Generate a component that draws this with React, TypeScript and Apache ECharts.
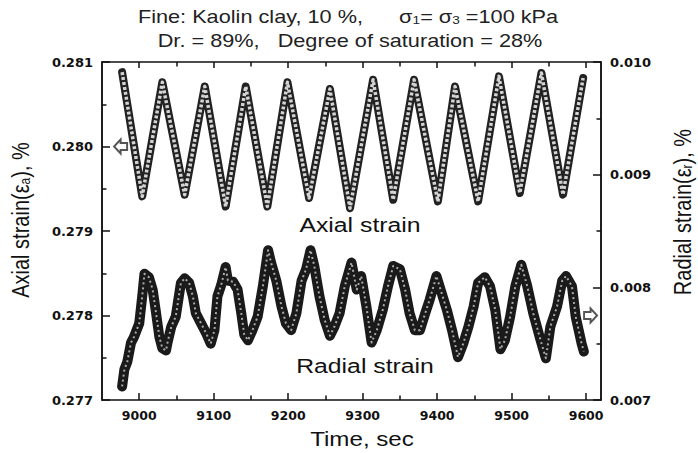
import { useEffect, useRef } from 'react';
import * as echarts from 'echarts';

// Axial strain (left axis, %) — turning points of the cyclic trace
const axialTime = [8977, 9004, 9031, 9061, 9088, 9116, 9143, 9172, 9199, 9228, 9256, 9283, 9314, 9341, 9369, 9401, 9424, 9455, 9483, 9511, 9540, 9569, 9596];
const axialStrain = [0.28088, 0.27941, 0.28076, 0.27943, 0.28071, 0.27929, 0.28071, 0.27929, 0.28076, 0.27939, 0.28068, 0.27927, 0.28079, 0.27937, 0.28079, 0.27935, 0.28071, 0.27935, 0.28083, 0.27945, 0.28087, 0.27943, 0.28081];

// Radial strain (right axis, %)
const radialTime = [8977, 8980, 8984, 8989, 8993, 9000, 9004, 9007, 9013, 9018, 9022, 9027, 9031, 9036, 9038, 9043, 9049, 9056, 9061, 9067, 9072, 9076, 9083, 9090, 9096, 9101, 9105, 9110, 9116, 9119, 9126, 9132, 9137, 9141, 9146, 9152, 9159, 9166, 9173, 9177, 9184, 9191, 9197, 9204, 9211, 9218, 9224, 9230, 9235, 9242, 9249, 9256, 9262, 9269, 9276, 9285, 9292, 9298, 9305, 9312, 9319, 9327, 9334, 9341, 9350, 9357, 9363, 9370, 9377, 9384, 9390, 9399, 9406, 9413, 9420, 9428, 9435, 9442, 9449, 9455, 9464, 9471, 9478, 9485, 9491, 9498, 9505, 9513, 9521, 9529, 9538, 9546, 9552, 9561, 9568, 9573, 9581, 9586, 9590, 9594, 9597];
const radialStrain = [0.00712, 0.00727, 0.00734, 0.00751, 0.00756, 0.00768, 0.00792, 0.00812, 0.00809, 0.00798, 0.0078, 0.00756, 0.00746, 0.00744, 0.00751, 0.00765, 0.00774, 0.00804, 0.00808, 0.00804, 0.00792, 0.00777, 0.00768, 0.00759, 0.0075, 0.00762, 0.00792, 0.00802, 0.00818, 0.00806, 0.00805, 0.00798, 0.00777, 0.00758, 0.00753, 0.00762, 0.00774, 0.00801, 0.00833, 0.00822, 0.00806, 0.00783, 0.00768, 0.00762, 0.00777, 0.00806, 0.00816, 0.00833, 0.00819, 0.00792, 0.00771, 0.00757, 0.00765, 0.00777, 0.00801, 0.00822, 0.00798, 0.0081, 0.00783, 0.00751, 0.00762, 0.0078, 0.00801, 0.00819, 0.00816, 0.00798, 0.00777, 0.00762, 0.00762, 0.00777, 0.00789, 0.0081, 0.00795, 0.0078, 0.00762, 0.00738, 0.0075, 0.00765, 0.00783, 0.00804, 0.00809, 0.00801, 0.0078, 0.00745, 0.00753, 0.00774, 0.00801, 0.0082, 0.00801, 0.00777, 0.00755, 0.00737, 0.00765, 0.00783, 0.00806, 0.0081, 0.00801, 0.00774, 0.00762, 0.0075, 0.00743];

// Tick values of the time axis
const majorTimeTicks = [9000, 9100, 9200, 9300, 9400, 9500, 9600];
const minorTimeTicks = [9050, 9150, 9250, 9350, 9450, 9550];

export default function App() {
  const ref = useRef<HTMLDivElement>(null);

  useEffect(() => {
    document.body.style.margin = '0';
    const chart = echarts.init(ref.current as HTMLDivElement, null, { renderer: 'svg' });

    const axialData = axialTime.map((t, i) => [t, axialStrain[i]]);
    const radialData = radialTime.map((t, i) => [t, radialStrain[i]]);

    const textFont = 'Liberation Sans, Arial, Helvetica, sans-serif';
    const tickFont = 'DejaVu Sans, sans-serif';
    const ink = '#111';

    const xBase = (position: string, ticks: number[], len: number, labels: boolean) => ({
      type: 'value',
      position,
      min: 8950,
      max: 9620,
      splitLine: { show: false },
      axisLine: { show: false },
      axisTick: { show: true, inside: true, length: len, customValues: ticks, lineStyle: { color: ink, width: 1.5 } },
      axisLabel: labels
        ? { show: true, customValues: ticks, margin: 9, color: ink, fontFamily: tickFont, fontWeight: 'bold', fontSize: 12.5, formatter: (v: number) => String(v) }
        : { show: false },
    });

    const yBase = (position: string, min: number, max: number, digits: number) => ({
      type: 'value',
      position,
      min,
      max,
      interval: 0.001,
      splitLine: { show: false },
      axisLine: { show: true, lineStyle: { color: ink, width: 1.5 } },
      axisTick: { show: true, inside: true, length: 8, lineStyle: { color: ink, width: 1.5 } },
      minorTick: { show: true, splitNumber: 2, length: 4.5, lineStyle: { color: ink, width: 1.5 } },
      minorSplitLine: { show: false },
      axisLabel: { margin: 9, color: ink, fontFamily: tickFont, fontWeight: 'bold', fontSize: 13, formatter: (v: number) => v.toFixed(digits) },
    });

    const sub = { fontSize: 11, fontFamily: textFont, fill: '#222', verticalAlign: 'bottom', lineHeight: 10 };

    chart.setOption({
      animation: false,
      backgroundColor: '#ffffff',
      grid: { left: 102, right: 97, top: 62, bottom: 53, show: true, borderColor: ink, borderWidth: 1.5, backgroundColor: 'transparent' },
      xAxis: [
        xBase('bottom', majorTimeTicks, 7, true),
        xBase('bottom', minorTimeTicks, 4.5, false),
        xBase('top', majorTimeTicks, 6, false),
        xBase('top', minorTimeTicks, 4.5, false),
      ],
      yAxis: [yBase('left', 0.277, 0.281, 3), yBase('right', 0.007, 0.01, 3)],
      series: [
        {
          type: 'line', name: 'Axial strain', xAxisIndex: 0, yAxisIndex: 0, data: axialData,
          symbol: 'none', lineStyle: { color: '#222', width: 8, join: 'round', cap: 'round' }, z: 2,
          markPoint: {
            symbol: 'path://M0,6 L6,0 L6,3 L12,3 L12,9 L6,9 L6,12 Z', symbolSize: [13, 14],
            itemStyle: { color: '#ffffff', borderColor: '#555', borderWidth: 2 }, label: { show: false },
            data: [{ coord: [8975, 0.28] }],
          },
        },
        {
          type: 'line', xAxisIndex: 0, yAxisIndex: 0, data: axialData, symbol: 'none',
          lineStyle: { color: '#d4d4d4', width: 3.5, type: [3, 2], join: 'round' }, z: 3,
        },
        {
          type: 'line', name: 'Radial strain', xAxisIndex: 0, yAxisIndex: 1, data: radialData,
          symbol: 'none', lineStyle: { color: '#1a1a1a', width: 10, join: 'round', cap: 'round' }, z: 2,
          markPoint: {
            symbol: 'path://M12,6 L6,0 L6,3 L0,3 L0,9 L6,9 L6,12 Z', symbolSize: [13, 14],
            itemStyle: { color: '#ffffff', borderColor: '#555', borderWidth: 2 }, label: { show: false },
            data: [{ coord: [9606, 0.00775] }],
          },
        },
        {
          type: 'line', xAxisIndex: 0, yAxisIndex: 1, data: radialData, symbol: 'none',
          lineStyle: { color: '#d8d8d8', width: 2, type: [2, 3], join: 'round', opacity: 0.75 }, z: 3,
        },
      ],
      graphic: [
        {
          type: 'text', x: 348, y: 17, scaleX: 1.24, z: 10,
          style: {
            text: 'Fine: Kaolin clay, 10 %,      σ{s|1}= σ{s|3} =100 kPa',
            fontSize: 17.5, fontFamily: textFont, fill: '#222', align: 'center', verticalAlign: 'middle',
            rich: { s: sub },
          },
        },
        {
          type: 'text', x: 350, y: 41, scaleX: 1.24, z: 10,
          style: {
            text: 'Dr. = 89%,   Degree of saturation = 28%',
            fontSize: 17.5, fontFamily: textFont, fill: '#222', align: 'center', verticalAlign: 'middle',
          },
        },
        {
          type: 'text', x: 362, y: 439, scaleX: 1.15, z: 10,
          style: { text: 'Time, sec', fontSize: 21, fontFamily: textFont, fill: '#111', align: 'center', verticalAlign: 'middle' },
        },
        {
          type: 'text', x: 360, y: 225, scaleX: 1.18, z: 10,
          style: { text: 'Axial strain', fontSize: 21, fontFamily: textFont, fill: '#111', align: 'center', verticalAlign: 'middle' },
        },
        {
          type: 'text', x: 365, y: 366, scaleX: 1.18, z: 10,
          style: { text: 'Radial strain', fontSize: 21, fontFamily: textFont, fill: '#111', align: 'center', verticalAlign: 'middle' },
        },
        {
          type: 'text', x: 21, y: 220, rotation: Math.PI / 2, scaleY: 1.15, z: 10,
          style: {
            text: 'Axial strain(ε{s|a}), %', fontSize: 20, fontFamily: textFont, fill: '#111', align: 'center', verticalAlign: 'middle',
            rich: { s: { ...sub, fontSize: 12, fill: '#111' } },
          },
        },
        {
          type: 'text', x: 683, y: 212, rotation: Math.PI / 2, scaleY: 1.15, z: 10,
          style: {
            text: 'Radial strain(ε{s|r}), %', fontSize: 20, fontFamily: textFont, fill: '#111', align: 'center', verticalAlign: 'middle',
            rich: { s: { ...sub, fontSize: 12, fill: '#111' } },
          },
        },
      ],
    });

    return () => chart.dispose();
  }, []);

  return <div ref={ref} style={{ position: 'absolute', left: 0, top: 0, width: 698, height: 453 }} />;
}
